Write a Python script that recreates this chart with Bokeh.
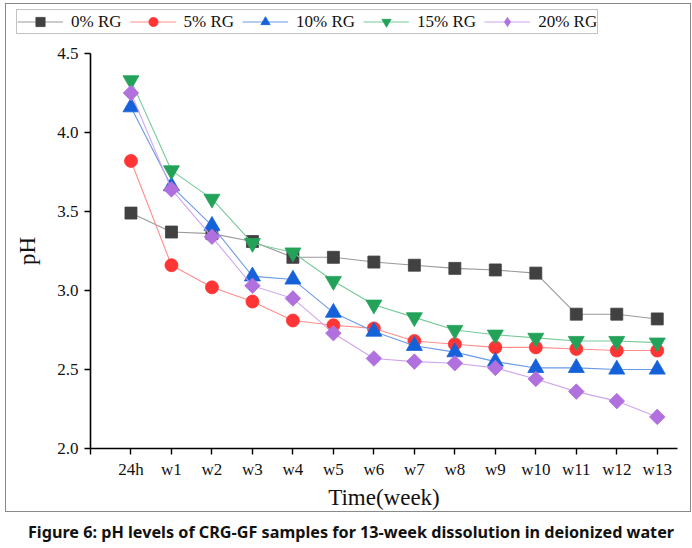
import math
from bokeh.plotting import figure
from bokeh.models import FixedTicker, Legend, LegendItem, Div, Range1d
from bokeh.layouts import column
from bokeh.embed import file_html
from bokeh.resources import INLINE

categories = ["24h", "w1", "w2", "w3", "w4", "w5", "w6", "w7", "w8", "w9", "w10", "w11", "w12", "w13"]
rg0 = [3.49, 3.37, 3.36, 3.31, 3.21, 3.21, 3.18, 3.16, 3.14, 3.13, 3.11, 2.85, 2.85, 2.82]
rg5 = [3.82, 3.16, 3.02, 2.93, 2.81, 2.78, 2.76, 2.68, 2.66, 2.64, 2.64, 2.63, 2.62, 2.62]
rg10 = [4.16, 3.66, 3.41, 3.09, 3.07, 2.86, 2.74, 2.65, 2.61, 2.55, 2.51, 2.51, 2.50, 2.50]
rg15 = [4.33, 3.76, 3.58, 3.30, 3.24, 3.06, 2.91, 2.83, 2.75, 2.72, 2.70, 2.68, 2.68, 2.67]
rg20 = [4.25, 3.64, 3.34, 3.03, 2.95, 2.73, 2.57, 2.55, 2.54, 2.51, 2.44, 2.36, 2.30, 2.20]
labels = ["0% RG", "5% RG", "10% RG", "15% RG", "20% RG"]
y_ticks = [2.0, 2.5, 3.0, 3.5, 4.0, 4.5]

series = [rg0, rg5, rg10, rg15, rg20]
# (plot marker, angle, size) and (legend-key marker, size)
markers = ["square", "circle", "triangle", "inverted_triangle", "square"]
angles = [0, 0, 0, 0, math.pi / 4]
sizes = [12, 13, 16, 16, 11]
key_markers = ["square", "circle", "triangle", "inverted_triangle", "diamond"]
key_sizes = [11, 12, 14, 14, 12]
fill_colors = ["#414141", "#ff3535", "#1561d9", "#23a25a", "#b070de"]
line_colors = ["#9a9a9a", "#ff8d8d", "#6b9ae6", "#78c999", "#cfa6ee"]

xs = list(range(len(categories)))

# canvas 686 x 509; axes drawn at x=-1 / y=2.0 inside a full-canvas frame
W, H = 686, 509
ax_left_px, ax_right_px = 84, 671      # x=-1 and x=13.5 (from canvas left)
ax_top_px, ax_bot_px = 49, 444         # y=4.5 and y=2.0 (from canvas top)
x_lo, x_hi = -1.0, 13.5
y_lo, y_hi = 2.0, 4.5
kx = (x_hi - x_lo) / (ax_right_px - ax_left_px)
ky = (y_hi - y_lo) / (ax_bot_px - ax_top_px)
xr = Range1d(x_lo - ax_left_px * kx, x_hi + (W - ax_right_px) * kx)
yr = Range1d(y_lo - (H - ax_bot_px) * ky, y_hi + ax_top_px * ky)

p = figure(width=W, height=H, output_backend="svg", toolbar_location=None,
           x_range=xr, y_range=yr, min_border=0, margin=(3, 0, 0, 5))
p.outline_line_color = None
p.xgrid.visible = False
p.ygrid.visible = False
p.background_fill_color = "white"
p.border_fill_color = "white"

items = []
for data, lab, mk, ang, sz, kmk, ksz, fc, lc in zip(series, labels, markers, angles, sizes,
                                                    key_markers, key_sizes, fill_colors, line_colors):
    lr = p.line(xs, data, line_color=lc, line_width=1.1)
    if kmk != mk:
        # key renderer lies fully under the plotted marker; it supplies the legend key shape
        kr = p.scatter(xs, data, marker=kmk, size=ksz, fill_color=fc, line_color=fc, line_width=0.8)
    sr = p.scatter(xs, data, marker=mk, angle=ang, size=sz, fill_color=fc, line_color=fc, line_width=0.8)
    items.append(LegendItem(label=lab, renderers=[lr, kr if kmk != mk else sr]))

legend = Legend(items=items, orientation="horizontal", location=(10, H - 30))
legend.label_text_font = "Liberation Serif"
legend.label_text_font_size = "17px"
legend.label_text_color = "#111111"
legend.glyph_width = 46
legend.glyph_height = 23
legend.label_standoff = 8
legend.spacing = 8
legend.padding = 0
legend.margin = 0
legend.border_line_color = "#888888"
legend.border_line_width = 1
legend.background_fill_alpha = 1.0
p.add_layout(legend)

# axes
p.xaxis.ticker = FixedTicker(ticks=list(range(-1, len(categories))))
overrides = {-1: ""}
for i, c in enumerate(categories):
    overrides[i] = c
p.xaxis.major_label_overrides = overrides
p.yaxis.ticker = FixedTicker(ticks=y_ticks)
p.yaxis.major_label_overrides = {t: f"{t:.1f}" for t in y_ticks}
p.xaxis.fixed_location = y_lo
p.yaxis.fixed_location = x_lo
p.xaxis.bounds = (x_lo, x_hi)
p.yaxis.bounds = (y_lo, y_hi)

for ax in (p.xaxis[0], p.yaxis[0]):
    ax.axis_line_color = "black"
    ax.axis_line_width = 1.6
    ax.major_tick_line_color = "black"
    ax.major_tick_line_width = 1.4
    ax.major_tick_out = 6
    ax.major_tick_in = 0
    ax.minor_tick_line_color = None
    ax.major_label_text_font = "Liberation Serif"
    ax.major_label_text_font_size = "17px"
    ax.major_label_text_color = "#111111"
    ax.axis_label_text_font = "Liberation Serif"
    ax.axis_label_text_font_size = "23px"
    ax.axis_label_text_font_style = "normal"
    ax.axis_label_text_color = "#111111"

p.xaxis.axis_label = "Time(week)"
p.yaxis.axis_label = "pH"
p.xaxis.major_label_standoff = 5
p.xaxis.axis_label_standoff = 3
p.yaxis.major_label_standoff = 6
p.yaxis.axis_label_standoff = 14

p.styles = {"border": "1px solid #8a8a8a", "box-sizing": "border-box"}

caption = Div(text="Figure 6: pH levels of CRG-GF samples for 13-week dissolution in deionized water",
              width=692, height=30,
              styles={"font-family": "Noto Sans", "font-weight": "bold", "font-size": "16.2px",
                      "color": "#111111", "text-align": "center", "width": "692px",
                      "line-height": "30px", "white-space": "nowrap"})

layout = column(p, caption, spacing=0)

open("out.html", "w").write(file_html(layout, INLINE))
